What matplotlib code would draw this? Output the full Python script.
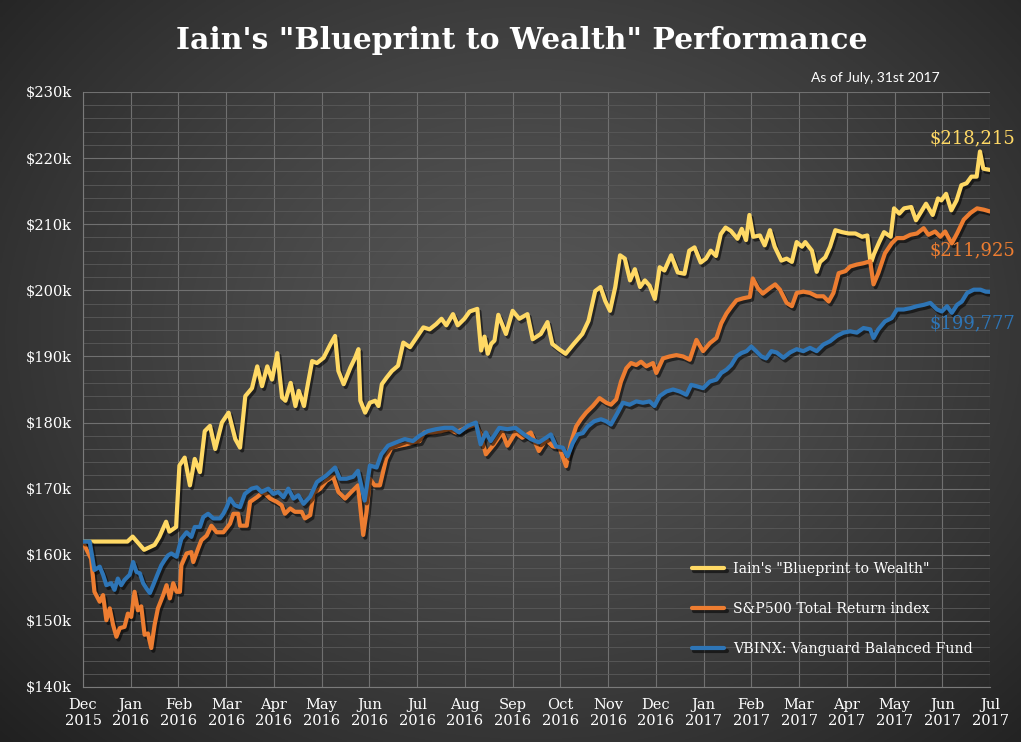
import numpy as np
import matplotlib
matplotlib.use("Agg")
from matplotlib import pyplot as plt
from matplotlib import patheffects as pe
from matplotlib.ticker import MultipleLocator, FuncFormatter

# time in months since Dec 2015, values in $k
months = ["Dec\n2015", "Jan\n2016", "Feb\n2016", "Mar\n2016", "Apr\n2016", "May\n2016",
          "Jun\n2016", "Jul\n2016", "Aug\n2016", "Sep\n2016", "Oct\n2016", "Nov\n2016",
          "Dec\n2016", "Jan\n2017", "Feb\n2017", "Mar\n2017", "Apr\n2017", "May\n2017",
          "Jun\n2017", "Jul\n2017"]

gold_t = [0, 0.93, 1.04, 1.28, 1.5, 1.6, 1.74, 1.81, 1.95, 2.02, 2.13, 2.24, 2.34, 2.45,
          2.55, 2.66, 2.77, 2.91, 3.05, 3.19, 3.29, 3.4, 3.54, 3.65, 3.75, 3.86, 3.96, 4.07,
          4.17, 4.24, 4.35, 4.45, 4.52, 4.63, 4.69, 4.8, 4.9, 5.04, 5.18, 5.28, 5.35, 5.46,
          5.6, 5.7, 5.77, 5.81, 5.91, 6.01, 6.12, 6.19, 6.26, 6.36, 6.47, 6.6, 6.71, 6.85,
          6.99, 7.13, 7.26, 7.4, 7.51, 7.61, 7.75, 7.85, 7.99, 8.1, 8.26, 8.34, 8.41, 8.48,
          8.55, 8.62, 8.7, 8.86, 9.0, 9.14, 9.31, 9.42, 9.59, 9.73, 9.83, 9.97, 10.11, 10.28,
          10.46, 10.59, 10.73, 10.84, 10.94, 11.04, 11.15, 11.25, 11.35, 11.46, 11.56, 11.67,
          11.77, 11.87, 11.98, 12.08, 12.18, 12.32, 12.46, 12.6, 12.7, 12.81, 12.94, 13.05,
          13.15, 13.26, 13.36, 13.46, 13.57, 13.71, 13.8, 13.89, 13.96, 14.04, 14.18, 14.28,
          14.39, 14.49, 14.63, 14.74, 14.85, 14.95, 15.06, 15.13, 15.27, 15.37, 15.44, 15.55,
          15.65, 15.76, 15.9, 16.04, 16.18, 16.32, 16.43, 16.5, 16.57, 16.68, 16.78, 16.92,
          16.99, 17.1, 17.2, 17.35, 17.45, 17.56, 17.66, 17.8, 17.91, 17.98, 18.08, 18.19,
          18.3, 18.4, 18.51, 18.61, 18.72, 18.79, 18.86, 19.0]
gold_v = [162, 162, 162.75, 160.75, 161.5, 162.7, 165, 163.5, 164.2, 173.5, 174.7, 170.5, 174.5, 172.5,
          178.7, 179.5, 176, 180, 181.5, 177.5, 176.2, 184, 185.2, 188.5, 185.5, 188.5, 186.5, 190.5,
          183.8, 183.3, 186, 182.5, 184.8, 182.5, 185, 189.3, 189, 189.8, 191.8, 193.1, 187.8, 185.8,
          188.3, 189.8, 191.1, 183.3, 181.5, 183, 183.3, 182.5, 185.8, 186.8, 187.8, 188.6, 192.1, 191.4,
          192.9, 194.4, 194.1, 194.9, 195.7, 194.7, 196.4, 194.7, 195.7, 196.8, 197.2, 190.9, 193.0, 190.4,
          191.9, 192.4, 196.3, 193.4, 196.9, 195.7, 196.4, 192.6, 193.4, 195.2, 191.9, 191.1, 190.4, 191.9,
          193.4, 195.4, 199.9, 200.5, 198.4, 196.9, 200.5, 205.3, 204.8, 201.5, 203.2, 200.5,
          201.5, 200.7, 198.7, 203.5, 203, 205.3, 202.7, 202.5, 206, 206.5, 204.2, 204.8,
          206, 205.2, 208.5, 209.5, 209, 207.8, 209.3, 207.6, 211.4, 208.1, 208.3, 206.8,
          209.1, 206.6, 204.5, 204.8, 204.3, 207.3, 206.6, 207.3, 206, 202.8, 204.3, 205,
          206.6, 209.1, 208.8, 208.6, 208.6, 208.1, 208.3, 204, 205.5, 207.3, 208.8, 208.1,
          212.4, 211.6, 212.4, 212.6, 210.6, 211.9, 213.1, 211.4, 213.9, 213.6, 214.6, 212.1,
          213.6, 215.9, 216.2, 217.2, 217.2, 221, 218.4, 218.215]

sp_t = [0, 0.1, 0.17, 0.24, 0.35, 0.42, 0.49, 0.56, 0.63, 0.7, 0.77, 0.87, 0.94, 1.01, 1.08,
        1.15, 1.22, 1.29, 1.36, 1.43, 1.5, 1.57, 1.68, 1.75, 1.82, 1.89, 1.96, 2.03, 2.06,
        2.17, 2.27, 2.31, 2.41, 2.48, 2.59, 2.69, 2.8, 2.94, 3.08, 3.15, 3.25, 3.29, 3.43,
        3.5, 3.64, 3.78, 3.92, 4.06, 4.16, 4.23, 4.34, 4.44, 4.58, 4.65, 4.76, 4.83, 4.97,
        5.1, 5.24, 5.35, 5.49, 5.62, 5.76, 5.87, 5.94, 6.01, 6.11, 6.22, 6.35, 6.46, 6.63,
        6.77, 6.91, 7.05, 7.15, 7.33, 7.5, 7.67, 7.81, 8.02, 8.23, 8.33, 8.44, 8.61, 8.78,
        8.89, 9.06, 9.2, 9.38, 9.55, 9.7, 9.84, 9.98, 10.12, 10.22, 10.33, 10.43, 10.54,
        10.68, 10.82, 10.96, 11.06, 11.17, 11.27, 11.38, 11.48, 11.59, 11.69, 11.8, 11.94,
        12.01, 12.15, 12.29, 12.43, 12.57, 12.71, 12.85, 12.99, 13.13, 13.27, 13.37, 13.48,
        13.58, 13.69, 13.83, 13.97, 14.03, 14.14, 14.24, 14.38, 14.5, 14.6, 14.74, 14.85,
        14.95, 15.09, 15.23, 15.37, 15.51, 15.62, 15.72, 15.83, 15.97, 16.07, 16.21, 16.35,
        16.49, 16.56, 16.66, 16.8, 16.94, 17.05, 17.19, 17.33, 17.47, 17.61, 17.71, 17.85,
        17.96, 18.06, 18.2, 18.31, 18.45, 18.59, 18.73, 18.87, 19.0]
sp_v = [161.9, 160.4, 159.4, 154.4, 152.9, 153.9, 150.1, 151.9, 149.4, 147.6, 148.9, 149.1, 151.1, 150.6, 154.4,
        151.6, 152.2, 147.9, 148.1, 145.9, 149.4, 151.9, 153.9, 155.4, 153.4, 155.7, 154.4, 154.4, 158.4,
        160.2, 160.4, 158.9, 160.9, 162.2, 162.9, 164.4, 163.4, 163.4, 164.7, 166.2, 166.2, 164.4, 164.4,
        168, 168.7, 169.5, 168.5, 168, 167.5, 166.2, 167, 166.5, 166.5, 165.5, 166, 169.3, 170,
        171.2, 171.8, 169.5, 168.5, 169.5, 170.5, 163, 166.5, 171.5, 170.5, 170.5, 174.5, 176.2, 176.5,
        176.7, 177, 177.2, 178.5, 178.5, 178.7, 179, 178.5, 179.2, 179.7, 178.2, 175.2, 176.7, 178.5,
        176.5, 178.5, 177.7, 178.5, 175.7, 177.4, 176.4, 176.2, 173.4, 176.9, 179.4, 180.5, 181.5,
        182.5, 183.7, 183, 182.7, 183.5, 186.2, 188.2, 189, 188.7, 189.2, 188.5, 189,
        187.5, 189.7, 190, 190.2, 190, 189.5, 192.5, 190.8, 192, 192.8, 195, 196.5,
        197.5, 198.5, 198.8, 199, 201.8, 200.3, 199.5, 200.3, 200.9, 200.1, 198.1, 197.6,
        199.6, 199.8, 199.6, 199.1, 199.1, 198.3, 199.6, 202.6, 202.9, 203.6, 203.9, 204.1,
        204.4, 200.9, 202.6, 205.6, 207.1, 207.9, 207.9, 208.4, 208.6, 209.4, 208.4, 208.9,
        208.1, 208.9, 207.1, 208.6, 210.7, 211.7, 212.4, 212.2, 211.925]

vb_t = [0, 0.14, 0.24, 0.35, 0.42, 0.49, 0.59, 0.66, 0.73, 0.8, 0.87, 0.98, 1.05, 1.12, 1.19,
        1.26, 1.33, 1.4, 1.47, 1.57, 1.64, 1.71, 1.78, 1.85, 1.96, 2.06, 2.17, 2.27, 2.34,
        2.45, 2.52, 2.62, 2.73, 2.87, 2.94, 3.01, 3.08, 3.18, 3.29, 3.39, 3.53, 3.64, 3.74,
        3.88, 3.99, 4.09, 4.2, 4.3, 4.41, 4.51, 4.62, 4.76, 4.9, 5.1, 5.28, 5.38, 5.52, 5.66,
        5.76, 5.9, 6.01, 6.15, 6.25, 6.39, 6.56, 6.74, 6.91, 7.05, 7.22, 7.4, 7.57, 7.74,
        7.88, 8.06, 8.23, 8.33, 8.44, 8.54, 8.72, 8.89, 9.06, 9.24, 9.38, 9.55, 9.7, 9.8,
        9.91, 10.05, 10.15, 10.26, 10.36, 10.47, 10.57, 10.71, 10.85, 10.96, 11.06, 11.2,
        11.31, 11.45, 11.59, 11.73, 11.87, 11.97, 12.08, 12.22, 12.36, 12.5, 12.64, 12.74,
        12.85, 12.99, 13.13, 13.27, 13.37, 13.48, 13.58, 13.69, 13.79, 13.9, 14.0, 14.1,
        14.21, 14.31, 14.42, 14.53, 14.67, 14.81, 14.95, 15.09, 15.23, 15.37, 15.51, 15.65,
        15.79, 15.93, 16.07, 16.21, 16.35, 16.49, 16.56, 16.66, 16.8, 16.94, 17.05, 17.19,
        17.33, 17.47, 17.61, 17.75, 17.89, 17.99, 18.1, 18.2, 18.31, 18.41, 18.52, 18.66,
        18.8, 18.91, 19.0]
vb_v = [162, 162, 157.7, 158.2, 157, 155.4, 155.7, 154.7, 156.4, 155.4, 156.2, 157, 158.9, 157.4, 157.2,
        155.7, 154.9, 154.2, 155.4, 157.2, 158.4, 159.2, 159.9, 160.2, 159.7, 162.4, 163.4, 162.7, 164.2,
        164.2, 165.7, 166.2, 165.5, 165.5, 166.2, 167.2, 168.5, 167.5, 167.2, 169.2, 170, 170.2, 169.5,
        170, 169.2, 169.5, 168.7, 170, 168.5, 169, 167.7, 168.8, 171, 172, 173.2, 171.5, 171.5, 171.8,
        172.7, 168.2, 173.5, 173.2, 175.2, 176.5, 177, 177.5, 177.2, 178, 178.7, 179, 179.2, 179.2,
        178.5, 179.5, 180, 176.7, 178.5, 177.2, 179.2, 179, 179.2, 178.2, 177.5, 177, 177.7, 178.2,
        176.4, 176.2, 174.9, 176.9, 178.2, 178.4, 179.4, 180.2, 180.5, 180.2, 179.7, 181.5,
        183, 182.7, 183.2, 183, 183.2, 182.5, 184, 184.7, 185, 184.7, 184.2, 185.7,
        185.5, 185.2, 186.2, 186.5, 187.5, 188, 188.7, 190, 190.5, 190.8, 191.5, 190.8,
        190, 189.7, 190.8, 190.6, 189.8, 190.6, 191.1, 190.8, 191.3, 190.8, 191.8, 192.3,
        193.1, 193.6, 193.8, 193.6, 194.3, 194.1, 192.8, 194.1, 195.3, 195.8, 197.1, 197.1,
        197.3, 197.6, 197.8, 198.1, 197.1, 196.8, 197.6, 196.6, 197.8, 198.3, 199.6, 200.1,
        200.1, 199.8, 199.777]

series = [
    ("Iain's \"Blueprint to Wealth\"", gold_t, gold_v, "#FFD965", "$218,215"),
    ("S&P500 Total Return index", sp_t, sp_v, "#ED7D31", "$211,925"),
    ("VBINX: Vanguard Balanced Fund", vb_t, vb_v, "#2E75B6", "$199,777"),
]
label_y = [221.6, 204.7, 193.6]

W, H = 1021, 742
fig = plt.figure(figsize=(W / 100, H / 100), dpi=100)

# radial gradient background
bg = fig.add_axes([0, 0, 1, 1])
yy, xx = np.mgrid[0:1:300j, 0:1:400j]
r = np.sqrt((xx - 0.52) ** 2 + ((yy - 0.45) * 0.9) ** 2)
r = np.clip(r / 0.72, 0, 1) ** 1.3
c0, c1 = np.array([0x56, 0x56, 0x56]) / 255, np.array([0x20, 0x20, 0x20]) / 255
img = c0[None, None, :] * (1 - r[..., None]) + c1[None, None, :] * r[..., None]
bg.imshow(img, extent=[0, 1, 0, 1], aspect="auto", origin="upper")
bg.set_axis_off()

ax = fig.add_axes([83 / W, 1 - 687 / H, (990 - 83) / W, (687 - 92) / H])
ax.set_facecolor("none")
for s in ["top", "right"]:
    ax.spines[s].set_visible(False)
for s in ["left", "bottom"]:
    ax.spines[s].set_color("#7a7a7a")
    ax.spines[s].set_linewidth(0.8)

ax.set_xlim(0, 19)
ax.set_ylim(140, 230)
ax.yaxis.set_major_locator(MultipleLocator(10))
ax.yaxis.set_minor_locator(MultipleLocator(2))
ax.yaxis.set_major_formatter(FuncFormatter(lambda v, p: "${:.0f}k".format(v)))
ax.set_xticks(range(len(months)))
ax.set_xticklabels(months)
ax.grid(True, which="major", color="#707070", linewidth=0.8)
ax.grid(True, which="minor", axis="y", color="#5a5a5a", linewidth=0.6)
ax.set_axisbelow(True)
ax.tick_params(axis="both", which="both", length=0, colors="white", labelsize=10.5, pad=8)
for lab in ax.get_xticklabels() + ax.get_yticklabels():
    lab.set_family("DejaVu Serif")
    lab.set_color("white")

shadow = [pe.SimpleLineShadow(offset=(1.5, -2), shadow_color="black", alpha=0.55), pe.Normal()]
for name, t, v, col, lab in series:
    ax.plot(t, v, color=col, lw=3, label=name, solid_joinstyle="round",
            solid_capstyle="round", path_effects=shadow, zorder=3)

for (name, t, v, col, lab), ly in zip(series, label_y):
    ax.text(19.52, ly, lab, color=col, fontsize=13, family="DejaVu Serif",
            ha="right", va="bottom", clip_on=False)

leg = ax.legend(loc="lower right", bbox_to_anchor=(0.995, 0.03), frameon=False,
                prop={"family": "DejaVu Serif", "size": 10.2}, labelspacing=1.85,
                handlelength=2.3, handletextpad=0.6)
for txt in leg.get_texts():
    txt.set_color("white")

fig.text(0.511, 0.945, "Iain's \"Blueprint to Wealth\" Performance", color="white",
         fontsize=21.5, fontweight="bold", family="DejaVu Serif", ha="center", va="center")
fig.text(0.92, 0.895, "As of July, 31st 2017", color="white", fontsize=10,
         family="Lato", ha="right", va="center")

fig.savefig("out.png", dpi=100)
